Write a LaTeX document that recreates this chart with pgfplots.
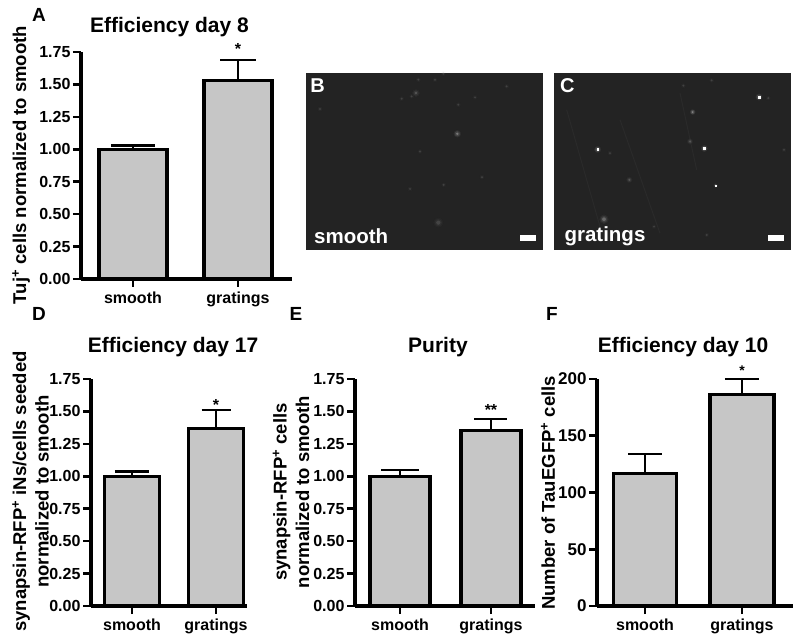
\documentclass[border=0pt]{standalone}
\usepackage{fontspec}
\setmainfont{Liberation Sans}
\usepackage{pgfplots}
\pgfplotsset{compat=1.18}
\definecolor{barfill}{HTML}{C6C6C6}
\definecolor{imgbg}{HTML}{232323}
\newcommand{\fs}[1]{\bfseries\fontsize{#1}{#1}\selectfont}
% soft spot: stacked translucent discs, size and strength from the picture
\newcommand{\blob}[3]{%
  \addplot[only marks, mark=*, mark size=#1*1.6pt, mark options={draw=none, fill=white, opacity=#2*0.2}] coordinates {#3};
  \addplot[only marks, mark=*, mark size=#1*1.15pt, mark options={draw=none, fill=white, opacity=#2*0.4}] coordinates {#3};
  \addplot[only marks, mark=*, mark size=#1*0.7pt, mark options={draw=none, fill=white, opacity=#2}] coordinates {#3};
}
% bright core of the sharpest spots
\newcommand{\core}[2]{%
  \addplot[only marks, mark=square*, mark size=#1, mark options={draw=white, fill=white, line width=0.2pt}] coordinates {#2};
}
\pgfplotsset{
  panel/.style={
    scale only axis, height=227pt, clip=false, axis on top,
    axis x line=bottom, axis y line=left,
    axis line style={-, line width=3.2pt, black},
    tick style={line width=2.6pt, black},
    tick align=outside, major tick length=8pt,
    xtick={0,1}, xticklabels={smooth,gratings},
    ymin=0,
    x tick label style={font=\fs{16}, text height=12pt, text depth=3pt, yshift=-1pt},
    y tick label style={font=\fs{16}, xshift=1pt},
    /pgf/number format/assume math mode=true,
    every axis y label/.style={rotate=90, anchor=center, align=center, font=\bfseries\fontsize{18.5}{22.5}\selectfont, inner sep=0pt},
    every axis title/.style={anchor=center, font=\fs{21}, inner sep=0pt},
  },
  zerotwo/.style={
    ymax=1.75, ytick={0,0.25,...,1.75},
    y tick label style={/pgf/number format/.cd, fixed, fixed zerofill, precision=2},
    scaled y ticks=false,
  },
  onebar/.style n args={3}{
    ybar, bar shift=0pt, bar width=#1, draw=black, fill=barfill, line width=3.2pt,
    error bars/.cd, y dir=plus, y explicit,
    error bar style={line width=2pt, black},
    error mark options={rotate=90, line width=#2, mark size=#3, black},
  },
  photo/.style={
    scale only axis, width=237pt, height=177pt, clip=true,
    y dir=reverse, ymin=40, ymax=570,
    ticks=none, axis line style={draw=none},
    axis background/.style={fill=imgbg},
  },
}
\begin{document}
\begin{tikzpicture}
\path[use as bounding box] (0pt,0pt) rectangle (800pt,640pt);

% panel A
\begin{axis}[panel, zerotwo, at={(81pt,361pt)}, anchor=south west, width=211pt,
  xmin=-0.495, xmax=1.514,
  title={Efficiency day 8}, title style={at={(axis description cs:0.419,1.11)}},
  ylabel={Tuj\textsuperscript{+} cells normalized to smooth},
  ylabel style={at={(axis description cs:-0.284,0.502)}}]
\addplot[onebar={68pt}{3pt}{22pt}] coordinates {(0,1.00) +- (0,0.03)};
\addplot[onebar={68pt}{2pt}{18pt}] coordinates {(1,1.53) +- (0,0.16)};
\node[font=\fs{16}, anchor=base, inner sep=0pt] at (axis cs:1,1.727) {*};
\end{axis}

% panel B
\begin{axis}[photo, at={(306pt,390pt)}, anchor=south west, xmin=18, xmax=729]
\blob{1.6}{0.1}{(360,275) (431,375) (330,387) (546,352) (305,117) (335,110) (355,60) (405,60) (475,135) (620,80) (60,148) (430,42) (525,113)}
\blob{3.2}{0.1}{(415,488)}
\blob{2.4}{0.16}{(348,100)}
\blob{2.4}{0.28}{(472,222)}
\addplot[no marks, white, line width=6pt] coordinates {(660,534) (707,534)};
\node[text=white, font=\fs{20}, anchor=center] at (axis cs:53,78) {B};
\node[text=white, font=\fs{20.5}, anchor=west, inner sep=0pt] at (axis cs:42,528) {smooth};
\end{axis}

% panel C
\begin{axis}[photo, at={(554pt,390pt)}, anchor=south west, xmin=762, xmax=1473]
\addplot[no marks, white!3!imgbg, line width=1pt] coordinates {(800,150) (900,500)};
\addplot[no marks, white!3!imgbg, line width=1pt] coordinates {(960,180) (1080,520)};
\addplot[no marks, white!3!imgbg, line width=1pt] coordinates {(1140,100) (1190,330)};
\blob{1.6}{0.1}{(1062,500) (1220,525) (1150,78) (1235,62) (1405,115) (1452,270) (930,280)}
\blob{2}{0.16}{(1170,245) (988,360)}
\blob{3}{0.22}{(912,478)}
\blob{1.8}{0.4}{(1178,157)}
\blob{2.2}{0.35}{(893,269) (1213,266) (1377,112)}
\blob{1.4}{0.35}{(1247,377)}
\core{0.9pt}{(893,269) (1213,266)}
\core{0.7pt}{(1377,112)}
\core{0.5pt}{(1247,377)}
\addplot[no marks, white, line width=6pt] coordinates {(1405,534) (1453,534)};
\node[text=white, font=\fs{20}, anchor=center] at (axis cs:802,78) {C};
\node[text=white, font=\fs{20.5}, anchor=west, inner sep=0pt] at (axis cs:793,528) {gratings};
\end{axis}

% panel D
\begin{axis}[panel, zerotwo, at={(91pt,34pt)}, anchor=south west, width=156pt,
  xmin=-0.488, xmax=1.369,
  title={Efficiency day 17}, title style={at={(axis description cs:0.526,1.14)}},
  ylabel={synapsin-RFP\textsuperscript{+} iNs/cells seeded\\normalized to smooth},
  ylabel style={at={(axis description cs:-0.387,0.504)}}]
\addplot[onebar={55pt}{3pt}{17pt}] coordinates {(0,1.00) +- (0,0.04)};
\addplot[onebar={55pt}{2pt}{14.5pt}] coordinates {(1,1.37) +- (0,0.14)};
\node[font=\fs{16}, anchor=base, inner sep=0pt] at (axis cs:1,1.51) {*};
\end{axis}

% panel E
\begin{axis}[panel, zerotwo, at={(355pt,34pt)}, anchor=south west, width=180pt,
  xmin=-0.495, xmax=1.484,
  title={Purity}, title style={at={(axis description cs:0.461,1.14)}},
  ylabel={synapsin-RFP\textsuperscript{+} cells\\normalized to smooth},
  ylabel style={at={(axis description cs:-0.355,0.502)}}]
\addplot[onebar={60pt}{2pt}{19pt}] coordinates {(0,1.00) +- (0,0.05)};
\addplot[onebar={60pt}{2pt}{16.5pt}] coordinates {(1,1.35) +- (0,0.09)};
\node[font=\fs{16}, anchor=base, inner sep=0pt] at (axis cs:1,1.47) {**};
\end{axis}

% panel F
\begin{axis}[panel, at={(597pt,34pt)}, anchor=south west, width=196pt,
  xmin=-0.495, xmax=1.526, ymax=200, ytick={0,50,100,150,200},
  y tick label style={font=\fs{17}},
  title={Efficiency day 10}, title style={at={(axis description cs:0.439,1.14)}},
  ylabel={Number of TauEGFP\textsuperscript{+} cells},
  ylabel style={at={(axis description cs:-0.25,0.498)}}]
\addplot[onebar={63pt}{2pt}{17pt}] coordinates {(0,116.6) +- (0,17)};
\addplot[onebar={64pt}{2pt}{17pt}] coordinates {(1,186) +- (0,13.7)};
\node[font=\fs{14}, anchor=base, inner sep=0pt] at (axis cs:1,203.5) {*};
\end{axis}

% panel letters
\node[font=\fs{19}] at (39pt,625pt) {A};
\node[font=\fs{19}] at (39pt,326pt) {D};
\node[font=\fs{19}] at (296pt,326pt) {E};
\node[font=\fs{19}] at (552pt,326pt) {F};
\end{tikzpicture}
\end{document}
